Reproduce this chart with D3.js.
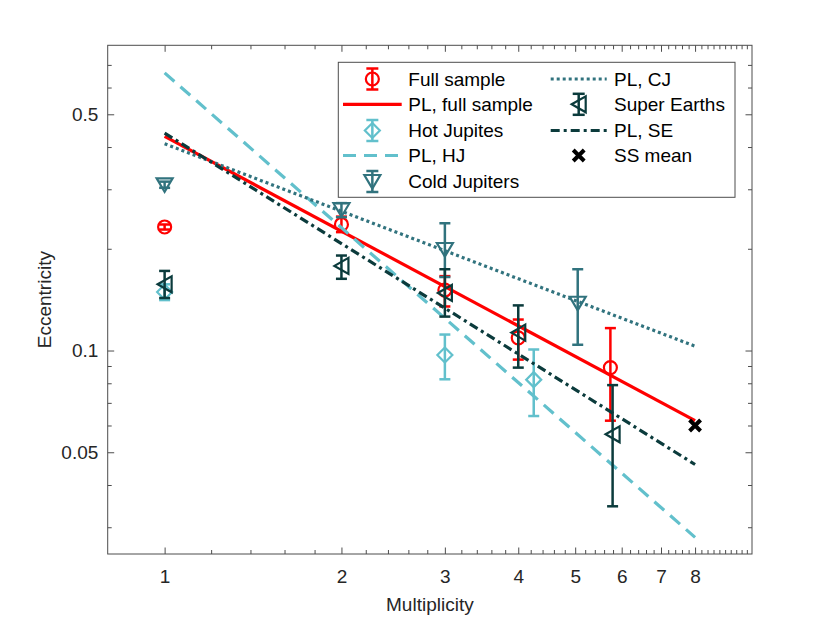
<!DOCTYPE html>
<html>
<head>
<meta charset="utf-8">
<script src="https://cdn.jsdelivr.net/npm/d3@7"></script>
<style>
  body { margin: 0; background: #fff; }
  svg text { font-family: "Liberation Sans", Arial, Helvetica, sans-serif; }
</style>
</head>
<body>
<div id="chart"></div>
<script>
// values
var fullN  = [1, 2, 3, 4, 5.74];
var fullE  = [0.232, 0.236, 0.151, 0.109, 0.089];
var fullLo = [0.228, 0.224, 0.135, 0.094, 0.062];
var fullHi = [0.236, 0.249, 0.166, 0.1235, 0.1165];

var hjN  = [1, 3, 4.25];
var hjE  = [0.149, 0.097, 0.082];
var hjLo = [0.141, 0.0822, 0.064];
var hjHi = [0.157, 0.1115, 0.1007];

var cjN  = [1, 2, 3, 5.05];
var cjE  = [0.309, 0.261, 0.199, 0.138];
var cjLo = [0.303, 0.248, 0.165, 0.104];
var cjHi = [0.316, 0.273, 0.238, 0.174];

var seN  = [1, 2, 3, 4, 5.79];
var seE  = [0.157, 0.178, 0.148, 0.113, 0.0565];
var seLo = [0.143, 0.163, 0.126, 0.089, 0.0346];
var seHi = [0.172, 0.191, 0.174, 0.136, 0.079];

var ssN = [8];
var ssE = [0.06];

// power-law fits, end points
var plN    = [1, 8];
var plFull = [0.43, 0.062];
var plHJ   = [0.663, 0.028];
var plCJ   = [0.409, 0.103];
var plSE   = [0.44, 0.046];

var xTicks = [1, 2, 3, 4, 5, 6, 7, 8];
var yTicks = [0.05, 0.1, 0.5];
var yMinor = [0.03, 0.04, 0.06, 0.07, 0.08, 0.09, 0.2, 0.3, 0.4, 0.6, 0.7];

var red = "#ff0000", hjCol = "#62c0cc", cjCol = "#31737e", seCol = "#0b3b3c";

(function() {
	var width = 830, height = 623;
	var box = { left: 107.7, right: 752, top: 45.3, bottom: 554 };
	var fs = "19px";

	var svg = d3.select("#chart").append("svg")
		.attr("width", width).attr("height", height);

	var x = d3.scaleLog().domain([0.8, 10]).range([box.left, box.right]);
	var y = d3.scaleLog().domain([0.025, 0.8]).range([box.bottom, box.top]);

	var xMinor = d3.range(0.8, 10.001, 0.2).map(function(v) { return +v.toFixed(1); })
		.filter(function(v) { return xTicks.indexOf(v) < 0 && v > 0.85 && v < 9.95; });

	var axisCol = "#4d4d4d", textCol = "#262626";

	function styleAxis(g) {
		g.select(".domain").remove();
		g.selectAll("line").attr("stroke", axisCol).attr("stroke-width", 1);
		g.selectAll("text").attr("fill", textCol).style("font-size", fs);
	}

	// major + minor ticks on all four sides
	svg.append("g").attr("transform", "translate(0," + box.bottom + ")")
		.call(d3.axisBottom(x).tickValues(xTicks).tickSize(-6.5).tickPadding(16).tickFormat(d3.format("d")))
		.call(styleAxis);
	svg.append("g").attr("transform", "translate(0," + box.bottom + ")")
		.call(d3.axisBottom(x).tickValues(xMinor).tickSize(-4).tickFormat(""))
		.call(styleAxis);
	svg.append("g").attr("transform", "translate(0," + box.top + ")")
		.call(d3.axisTop(x).tickValues(xTicks).tickSize(-6.5).tickFormat(""))
		.call(styleAxis);
	svg.append("g").attr("transform", "translate(0," + box.top + ")")
		.call(d3.axisTop(x).tickValues(xMinor).tickSize(-4).tickFormat(""))
		.call(styleAxis);

	svg.append("g").attr("transform", "translate(" + box.left + ",0)")
		.call(d3.axisLeft(y).tickValues(yTicks).tickSize(-6.5).tickPadding(9.4).tickFormat(d3.format("")))
		.call(styleAxis);
	svg.append("g").attr("transform", "translate(" + box.left + ",0)")
		.call(d3.axisLeft(y).tickValues(yMinor).tickSize(-4).tickFormat(""))
		.call(styleAxis);
	svg.append("g").attr("transform", "translate(" + box.right + ",0)")
		.call(d3.axisRight(y).tickValues(yTicks).tickSize(-6.5).tickFormat(""))
		.call(styleAxis);
	svg.append("g").attr("transform", "translate(" + box.right + ",0)")
		.call(d3.axisRight(y).tickValues(yMinor).tickSize(-4).tickFormat(""))
		.call(styleAxis);

	svg.append("rect")
		.attr("x", box.left).attr("y", box.top)
		.attr("width", box.right - box.left).attr("height", box.bottom - box.top)
		.attr("fill", "none").attr("stroke", axisCol).attr("stroke-width", 1);

	svg.append("text").attr("x", (box.left + box.right) / 2).attr("y", 610.5)
		.attr("text-anchor", "middle").attr("fill", textCol).style("font-size", fs)
		.text("Multiplicity");
	svg.append("text").attr("transform", "translate(50.5," + (box.top + box.bottom) / 2 + ") rotate(-90)")
		.attr("text-anchor", "middle").attr("fill", textCol).style("font-size", fs)
		.text("Eccentricity");

	// marker shapes
	var shapes = {
		circle: function(g, c) { g.append("circle").attr("r", 6.5).attr("fill", "none").attr("stroke", c).attr("stroke-width", 2.2); },
		diamond: function(g, c) { g.append("path").attr("d", "M0,-7.5L7.5,0L0,7.5L-7.5,0Z").attr("fill", "none").attr("stroke", c).attr("stroke-width", 2.2); },
		down: function(g, c) { g.append("path").attr("d", "M-8,-6.5L8,-6.5L0,7Z").attr("fill", "none").attr("stroke", c).attr("stroke-width", 2.2); },
		left: function(g, c) { g.append("path").attr("d", "M-7,0L7,-8L7,8Z").attr("fill", "none").attr("stroke", c).attr("stroke-width", 2.2); },
		cross: function(g, c) { g.append("path").attr("d", "M-5.5,-5.5L5.5,5.5M-5.5,5.5L5.5,-5.5").attr("stroke", c).attr("stroke-width", 4); }
	};

	function errorbars(N, E, lo, hi, color, shape) {
		var pts = N.map(function(n, i) { return { n: n, e: E[i], lo: lo[i], hi: hi[i] }; });
		var g = svg.append("g");
		var bars = g.selectAll(".eb").data(pts).enter().append("g");
		bars.append("line")
			.attr("x1", function(d) { return x(d.n); }).attr("x2", function(d) { return x(d.n); })
			.attr("y1", function(d) { return y(d.lo); }).attr("y2", function(d) { return y(d.hi); })
			.attr("stroke", color).attr("stroke-width", 2.5);
		["lo", "hi"].forEach(function(k) {
			bars.append("line")
				.attr("x1", function(d) { return x(d.n) - 5.5; }).attr("x2", function(d) { return x(d.n) + 5.5; })
				.attr("y1", function(d) { return y(d[k]); }).attr("y2", function(d) { return y(d[k]); })
				.attr("stroke", color).attr("stroke-width", 2.5);
		});
		bars.each(function(d) {
			var m = d3.select(this).append("g").attr("transform", "translate(" + x(d.n) + "," + y(d.e) + ")");
			shapes[shape](m, color);
		});
	}

	var line = d3.line().x(function(d) { return x(d[0]); }).y(function(d) { return y(d[1]); });
	function powerLaw(vals, color, dash) {
		svg.append("path").datum(plN.map(function(n, i) { return [n, vals[i]]; }))
			.attr("d", line).attr("fill", "none").attr("stroke", color)
			.attr("stroke-width", 3.2).attr("stroke-dasharray", dash);
	}

	errorbars(fullN, fullE, fullLo, fullHi, red, "circle");
	powerLaw(plFull, red, null);
	errorbars(hjN, hjE, hjLo, hjHi, hjCol, "diamond");
	powerLaw(plHJ, hjCol, "13,8");
	errorbars(cjN, cjE, cjLo, cjHi, cjCol, "down");
	powerLaw(plCJ, cjCol, "3,3");
	errorbars(seN, seE, seLo, seHi, seCol, "left");
	powerLaw(plSE, seCol, "9,4,3,4");
	ssN.forEach(function(n, i) {
		var m = svg.append("g").attr("transform", "translate(" + x(n) + "," + y(ssE[i]) + ")");
		shapes.cross(m, "#000");
	});

	// legend
	var legendItems = [
		{ label: "Full sample", type: "eb", shape: "circle", color: red, col: 0, row: 0 },
		{ label: "PL, full sample", type: "line", dash: null, color: red, col: 0, row: 1 },
		{ label: "Hot Jupites", type: "eb", shape: "diamond", color: hjCol, col: 0, row: 2 },
		{ label: "PL, HJ", type: "line", dash: "13,8", color: hjCol, col: 0, row: 3 },
		{ label: "Cold Jupiters", type: "eb", shape: "down", color: cjCol, col: 0, row: 4 },
		{ label: "PL, CJ", type: "line", dash: "3,3", color: cjCol, col: 1, row: 0 },
		{ label: "Super Earths", type: "eb", shape: "left", color: seCol, col: 1, row: 1 },
		{ label: "PL, SE", type: "line", dash: "9,4,3,4", color: seCol, col: 1, row: 2 },
		{ label: "SS mean", type: "mk", shape: "cross", color: "#000", col: 1, row: 3 }
	];
	var lg = { x: 338.3, y: 62.3, w: 396.7, h: 135 };
	var cols = [{ x0: 343, x1: 401.7, tx: 408.3 }, { x0: 550.7, x1: 606.7, tx: 614 }];
	var rowY = [79, 104.3, 130.5, 155.5, 181.5];

	svg.append("rect").attr("x", lg.x).attr("y", lg.y).attr("width", lg.w).attr("height", lg.h)
		.attr("fill", "#fff").attr("stroke", axisCol).attr("stroke-width", 1);

	legendItems.forEach(function(it) {
		var c = cols[it.col], cy = rowY[it.row], cx = (c.x0 + c.x1) / 2;
		var g = svg.append("g");
		if (it.type === "line") {
			g.append("line").attr("x1", c.x0).attr("x2", c.x1).attr("y1", cy).attr("y2", cy)
				.attr("stroke", it.color).attr("stroke-width", 3.2).attr("stroke-dasharray", it.dash);
		} else {
			if (it.type === "eb") {
				g.append("line").attr("x1", cx).attr("x2", cx).attr("y1", cy - 10.5).attr("y2", cy + 10.5)
					.attr("stroke", it.color).attr("stroke-width", 2.5);
				[-10.5, 10.5].forEach(function(o) {
					g.append("line").attr("x1", cx - 6).attr("x2", cx + 6).attr("y1", cy + o).attr("y2", cy + o)
						.attr("stroke", it.color).attr("stroke-width", 2.5);
				});
			}
			var m = g.append("g").attr("transform", "translate(" + cx + "," + cy + ")");
			shapes[it.shape](m, it.color);
		}
		g.append("text").attr("x", c.tx).attr("y", cy).attr("dy", "0.35em")
			.attr("fill", "#000").style("font-size", fs).text(it.label);
	});
})();
</script>
</body>
</html>
